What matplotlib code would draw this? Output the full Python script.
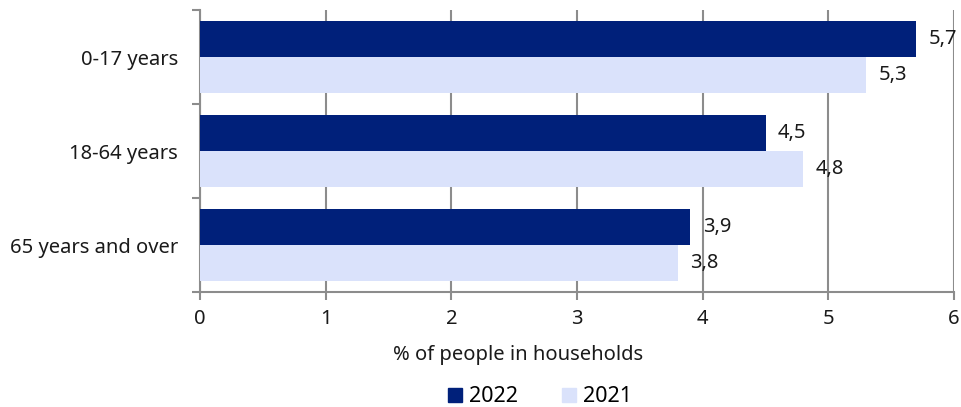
import matplotlib
matplotlib.use("Agg")
import matplotlib.pyplot as plt
from matplotlib.patches import Patch

categories = ["0-17 years", "18-64 years", "65 years and over"]
values_2022 = [5.7, 4.5, 3.9]
values_2021 = [5.3, 4.8, 3.8]
series_names = ["2022", "2021"]
xticks = [0, 1, 2, 3, 4, 5, 6]
xlabel = "% of people in households"

dark = "#00207a"
light = "#dae2fb"
grid_col = "#8c8c8c"
txt = "#1a1a1a"
fs = 14.5

plt.rcParams['font.family'] = ['Noto Sans', 'DejaVu Sans']

fig = plt.figure(figsize=(9.61, 4.07), dpi=100)
ax = fig.add_axes([200/961, 1-292/407, 754/961, 282/407])

h = 36/94
ypos = list(range(len(categories)))
ax.barh([y - h/2 for y in ypos], values_2022, height=h, color=dark, zorder=3)
ax.barh([y + h/2 for y in ypos], values_2021, height=h, color=light, zorder=3)

for y, v in zip(ypos, values_2022):
    ax.text(v + 0.1, y - h/2, f"{v:.1f}".replace(".", ","), va="center", ha="left", fontsize=fs, color=txt)
for y, v in zip(ypos, values_2021):
    ax.text(v + 0.1, y + h/2, f"{v:.1f}".replace(".", ","), va="center", ha="left", fontsize=fs, color=txt)

ax.set_xlim(0, 6)
ax.set_ylim(2.5, -0.5)
ax.set_xticks(xticks)
ax.set_xticklabels([str(t) for t in xticks], fontsize=fs, color=txt)
ax.set_yticks(ypos)
ax.set_yticklabels(categories, fontsize=fs, color=txt)
ax.set_yticks([-0.5, 0.5, 1.5, 2.5], minor=True)
ax.tick_params(axis='y', which='major', length=0, pad=16)
ax.tick_params(axis='y', which='minor', length=6, width=1.5, color=grid_col)
ax.tick_params(axis='x', length=6, width=1.5, color=grid_col, pad=6)

ax.grid(axis='x', color=grid_col, linewidth=1.5, zorder=0)
for s in ["top", "right"]:
    ax.spines[s].set_visible(False)
for s in ["left", "bottom"]:
    ax.spines[s].set_color(grid_col)
    ax.spines[s].set_linewidth(1.5)

fig.text(518/961, 1-355/407, xlabel, fontsize=fs, color=txt, ha="center", va="center")

handles = [Patch(color=dark), Patch(color=light)]
fig.legend(handles, series_names, loc='center', ncol=2, bbox_to_anchor=(540/961, 1-397/407),
           frameon=False, fontsize=15.5, handlelength=0.65, handleheight=0.65, handletextpad=0.35, columnspacing=2.0,
           borderpad=0)

fig.savefig("out.png", dpi=100)
